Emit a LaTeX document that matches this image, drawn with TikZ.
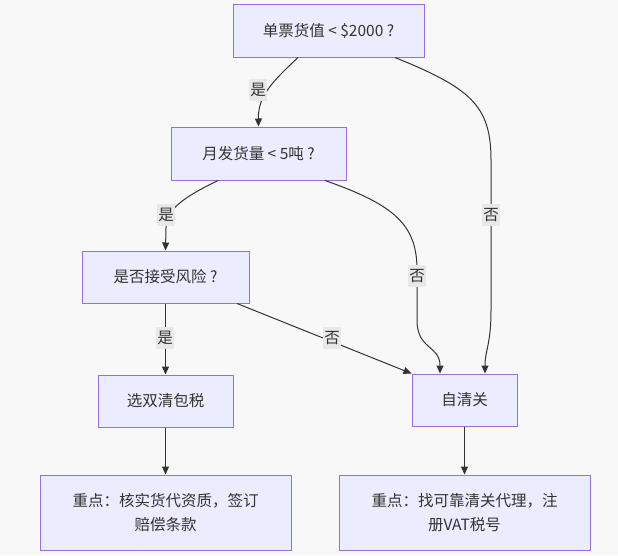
\documentclass[tikz,border=0pt]{standalone}
\usepackage{fontspec}
\setmainfont{Noto Sans CJK SC}
\usetikzlibrary{arrows.meta}
\definecolor{nodefill}{HTML}{ECECFF}
\definecolor{nodeline}{HTML}{9370DB}
\definecolor{txt}{HTML}{333333}
\definecolor{bg}{HTML}{F8F8F8}
\definecolor{lblbg}{HTML}{E8E8E8}
\begin{document}
\begin{tikzpicture}[x=1pt,y=-1pt,
  box/.style={draw=nodeline,fill=nodefill,line width=1pt,text=txt,font=\fontsize{15.5}{24}\selectfont,align=center,inner sep=0pt},
  conn/.style={draw=txt,line width=1pt,-{Triangle[length=8pt,width=7pt]}},
  lbl/.style={fill=lblbg,text=txt,font=\fontsize{15.5}{18}\selectfont,inner sep=1.5pt,minimum height=22pt}]
\fill[bg] (0,0) rectangle (618,555);
\useasboundingbox (0,0) rectangle (618,555);
\node[box,minimum width=191pt,minimum height=53pt] (b1) at (328.5,30.5) {单票货值 < \$2000 ?};
\node[box,minimum width=175pt,minimum height=53pt] (b2) at (258.5,153.5) {月发货量 < 5吨 ?};
\node[box,minimum width=167pt,minimum height=52pt] (b3) at (165.5,277) {是否接受风险 ?};
\node[box,minimum width=135pt,minimum height=52pt] (b4) at (165.5,401) {选双清包税};
\node[box,minimum width=105pt,minimum height=52pt] (b5) at (464.5,400) {自清关};
\node[box,minimum width=251pt,minimum height=75pt] (b6) at (165.5,512.5) {重点：核实货代资质，签订\\赔偿条款};
\node[box,minimum width=251pt,minimum height=75pt] (b7) at (464.5,512.5) {重点：找可靠清关代理，注\\册VAT税号};
% b1 -> b2
\draw[conn] ([xshift=-30.5pt]b1.south) .. controls (272,82) and (258,96) .. (b2.north);
\node[lbl] (l1) at (258,90) {是};
% b1 -> b5
\draw[conn] ([xshift=66.5pt]b1.south) .. controls (470,88) and (491,105) .. (491,160) -- (491,310) .. controls (491,345) and (485,350) .. ([xshift=20.5pt]b5.north);
\node[lbl] (l2) at (491,215) {否};
% b2 -> b3
\draw[conn] ([xshift=-40.5pt]b2.south) .. controls (182,198) and (166,210) .. (166,228) -- (b3.north);
\node[lbl] (l3) at (166,215) {是};
% b2 -> b5
\draw[conn] ([xshift=66.5pt]b2.south) .. controls (395,205) and (417,225) .. (417,270) -- (417,320) .. controls (417,350) and (440,345) .. ([xshift=-24.5pt]b5.north);
\node[lbl] (l4) at (417,276) {否};
% b3 -> b4
\draw[conn] (b3.south) -- (b4.north);
\node[lbl] (l5) at (165,338) {是};
% b3 -> b5
\draw[conn] ([xshift=71.5pt]b3.south) -- (b5.north west);
\node[lbl] (l6) at (332,338) {否};
% bottom
\draw[conn] (b4.south) -- (b6.north);
\draw[conn] (b5.south) -- (b7.north);
\end{tikzpicture}
\end{document}
